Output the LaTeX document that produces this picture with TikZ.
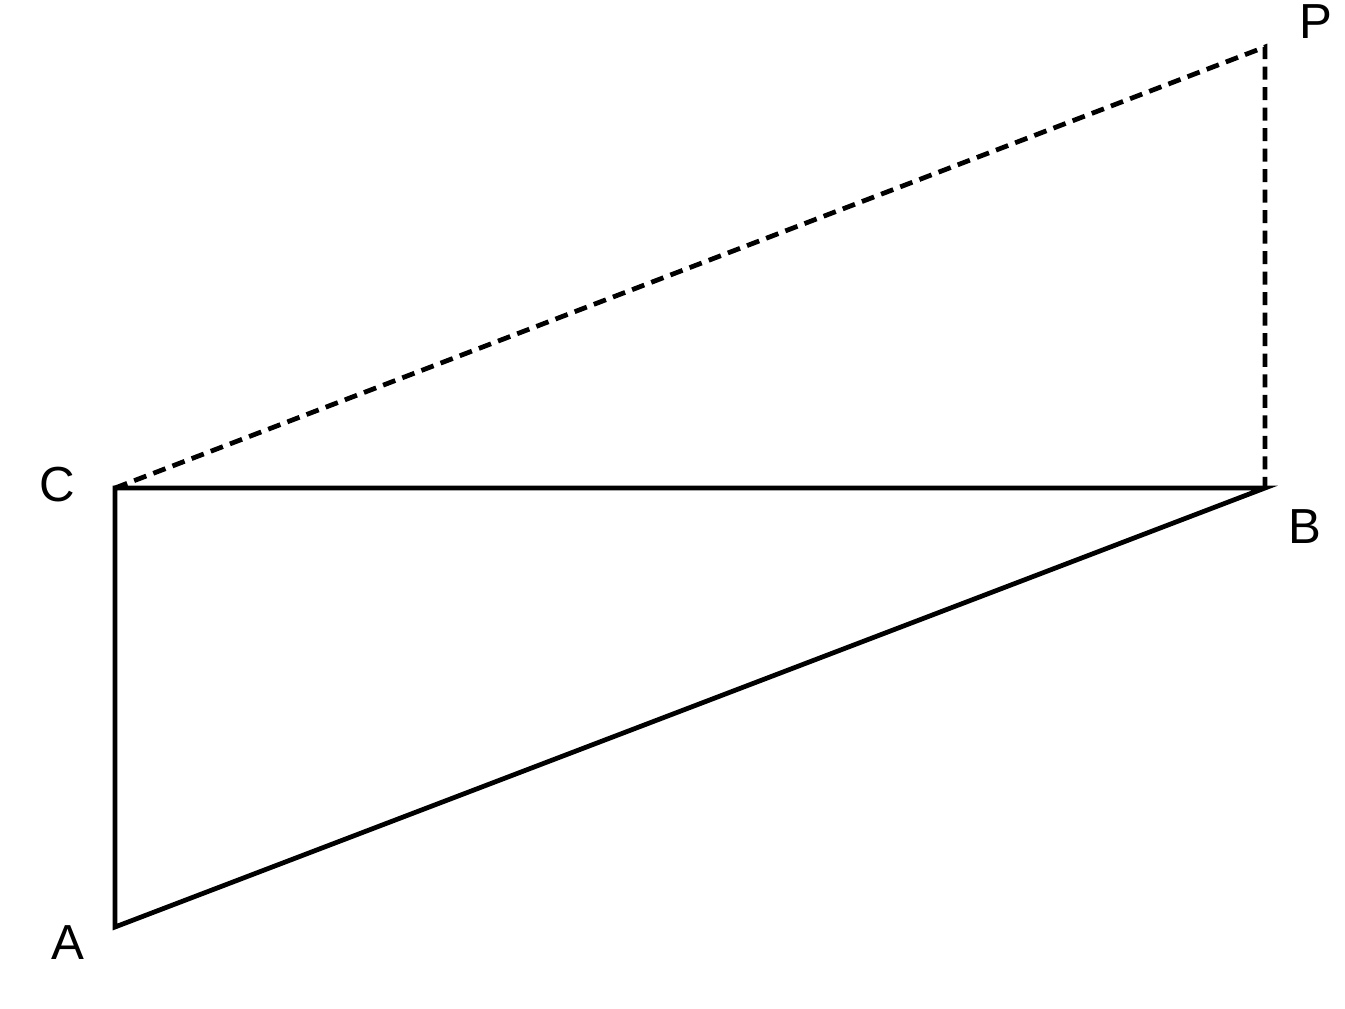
\documentclass[tikz,border=0pt]{standalone}
\usepackage{fontspec}
\setmainfont{Liberation Sans}
\usetikzlibrary{positioning}

\begin{document}
\begin{tikzpicture}[x=0.01cm,y=-0.01cm,line width=1.35pt,
                    font=\fontsize{14}{16}\selectfont]
  \tikzstyle{side}=[draw=black,line cap=rect]
  \tikzstyle{hidden}=[draw=black,dash pattern=on 0.13cm off 0.075cm]
  \tikzstyle{label}=[inner sep=0pt,text=black]

  \useasboundingbox (0,0) rectangle (1345,1009);

  \coordinate (A) at (115,927);
  \coordinate (B) at (1265,488);
  \coordinate (C) at (115,488);
  \coordinate (P) at (1265,47);

  \node[label] (lA) at (68,943)   {A};
  \node[label] (lB) at (1305,527) {B};
  \node[label] (lC) at (57,485)   {C};
  \node[label] (lP) at (1316,22)  {P};

  \path[side] (A) -- (C) -- (B) -- cycle;
  \path[hidden] (C) -- (P) -- (B);
\end{tikzpicture}
\end{document}
